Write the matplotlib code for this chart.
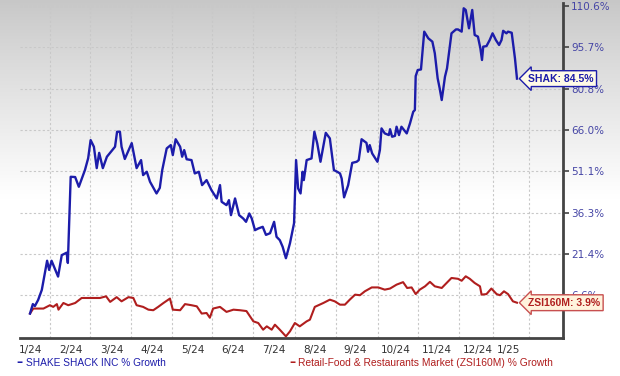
import matplotlib
matplotlib.use('Agg')
import matplotlib.pyplot as plt
import numpy as np

# x = months since the first day on the chart (1/24), y = % growth
shak_month = [0.00, 0.07, 0.12, 0.20, 0.29, 0.42, 0.47, 0.53, 0.69, 0.78, 0.90, 0.93,
              1.00, 1.11, 1.20, 1.35, 1.43, 1.49, 1.57, 1.64, 1.70, 1.79, 1.89, 2.09,
              2.14, 2.21, 2.25, 2.33, 2.50, 2.62, 2.73, 2.78, 2.87, 2.95, 3.11, 3.19,
              3.25, 3.36, 3.46, 3.51, 3.58, 3.69, 3.74, 3.79, 3.85, 3.97, 4.05, 4.15,
              4.23, 4.34, 4.46, 4.59, 4.67, 4.71, 4.83, 4.89, 4.94, 5.04, 5.14, 5.24,
              5.31, 5.39, 5.45, 5.53, 5.61, 5.72, 5.80, 5.90, 6.00, 6.06, 6.14, 6.21,
              6.29, 6.39, 6.49, 6.54, 6.59, 6.65, 6.70, 6.73, 6.80, 6.92, 6.99, 7.06,
              7.14, 7.27, 7.37, 7.47, 7.55, 7.62, 7.66, 7.72, 7.82, 7.92, 8.03, 8.08,
              8.15, 8.27, 8.31, 8.35, 8.41, 8.54, 8.60, 8.64, 8.72, 8.82, 8.85, 8.90,
              8.97, 9.01, 9.07, 9.13, 9.26, 9.34, 9.42, 9.46, 9.48, 9.53, 9.61, 9.69,
              9.79, 9.89, 9.95, 10.02, 10.07, 10.12, 10.20, 10.25, 10.36, 10.47, 10.52,
              10.61, 10.66, 10.71, 10.79, 10.87, 10.93, 11.01, 11.07, 11.11, 11.14,
              11.22, 11.30, 11.37, 11.45, 11.53, 11.59, 11.63, 11.71, 11.75, 11.84,
              11.92, 11.97]
shak_growth = [0.0, 3.4, 2.7, 4.9, 8.5, 19.0, 15.7, 19.0, 13.3, 21.0, 21.9, 18.2,
               49.2, 49.1, 45.6, 51.6, 55.9, 62.4, 60.0, 52.3, 57.8, 52.3, 56.4, 60.0,
               65.4, 65.4, 60.0, 55.6, 61.3, 52.3, 55.2, 49.8, 51.0, 47.4, 43.2, 45.2,
               51.6, 59.4, 60.6, 57.0, 62.7, 60.0, 56.4, 58.8, 55.5, 55.2, 50.4, 51.0,
               46.2, 48.0, 44.4, 41.4, 46.2, 40.2, 39.0, 40.8, 35.4, 41.4, 35.4, 34.2,
               33.0, 36.0, 34.2, 30.0, 30.6, 31.2, 28.3, 28.9, 33.0, 27.6, 26.4, 24.0,
               19.9, 25.3, 32.5, 55.2, 45.0, 43.2, 51.0, 48.0, 55.2, 55.8, 65.4, 61.2,
               54.6, 65.0, 63.0, 51.6, 51.0, 50.4, 48.6, 41.8, 46.2, 54.2, 54.6, 55.2,
               62.7, 61.4, 58.2, 60.6, 57.6, 54.6, 58.8, 66.6, 64.8, 64.2, 66.3, 63.6,
               63.9, 67.2, 64.2, 67.2, 64.8, 68.4, 72.6, 73.2, 85.4, 87.6, 87.8, 101.4,
               99.0, 97.8, 93.6, 84.6, 81.0, 76.8, 85.2, 88.2, 100.8, 102.2, 102.2,
               101.4, 109.8, 109.2, 102.6, 109.2, 100.2, 99.6, 95.4, 91.2, 96.0,
               96.2, 98.4, 100.8, 98.4, 96.6, 98.4, 101.7, 100.8, 101.4, 101.0,
               91.8, 84.5]

zsi_month = [0.00, 0.08, 0.33, 0.49, 0.57, 0.66, 0.70, 0.82, 0.94, 1.11, 1.27, 1.47,
             1.72, 1.87, 1.97, 2.13, 2.25, 2.42, 2.54, 2.62, 2.78, 2.91, 3.03, 3.15,
             3.28, 3.44, 3.51, 3.69, 3.81, 3.97, 4.10, 4.22, 4.34, 4.42, 4.50, 4.67,
             4.83, 5.00, 5.16, 5.32, 5.49, 5.61, 5.73, 5.82, 5.94, 6.02, 6.14, 6.29,
             6.39, 6.51, 6.63, 6.80, 6.88, 7.00, 7.21, 7.37, 7.49, 7.62, 7.74, 7.86,
             7.99, 8.11, 8.23, 8.40, 8.56, 8.72, 8.85, 9.01, 9.17, 9.27, 9.38, 9.48,
             9.58, 9.71, 9.83, 9.95, 10.12, 10.24, 10.36, 10.52, 10.61, 10.71, 10.81,
             10.93, 11.06, 11.10, 11.22, 11.34, 11.47, 11.55, 11.65, 11.75, 11.87, 11.97]
zsi_growth = [0.0, 1.8, 1.8, 3.0, 2.4, 3.4, 1.4, 3.8, 3.0, 3.8, 5.6, 5.6,
              5.6, 6.2, 4.2, 5.9, 4.4, 5.9, 5.6, 3.0, 2.4, 1.4, 1.2, 2.4,
              3.8, 5.4, 1.4, 1.2, 3.4, 3.0, 2.6, 0.0, 0.2, -1.5, 1.8, 2.4,
              0.6, 1.4, 1.2, 0.9, -2.8, -3.4, -5.8, -4.6, -5.8, -4.0, -5.8, -8.2,
              -6.4, -3.4, -4.6, -2.8, -2.2, 2.4, 3.8, 5.0, 4.4, 3.2, 3.2, 5.0,
              6.8, 6.6, 8.0, 9.4, 9.4, 8.6, 9.0, 10.4, 11.3, 9.2, 9.4, 7.0,
              8.6, 9.8, 11.4, 9.8, 9.2, 11.0, 12.8, 12.5, 11.8, 13.4, 12.5,
              11.0, 9.8, 6.8, 7.0, 9.0, 7.0, 6.6, 8.0, 7.0, 4.4, 3.9]

month_ticks = [0, 1, 2, 3, 4, 5, 6, 7, 8, 9, 10, 11, 11.76]
month_labels = ['1/24', '2/24', '3/24', '4/24', '5/24', '6/24', '7/24', '8/24',
                '9/24', '10/24', '11/24', '12/24', '1/25']
grid_months = [0.49, 1.47, 2.48, 3.49, 4.47, 5.48, 6.51, 7.52, 8.55, 9.53,
               10.54, 11.38, 12.27]
y_ticks = [6.6, 21.4, 36.3, 51.1, 66.0, 80.8, 95.7, 110.6]

blue = '#1c1caa'
red = '#b01e1e'

fig = plt.figure(figsize=(6.2, 3.76), dpi=100)

# grey to white background fade
bg = fig.add_axes([0, 0, 1, 1], zorder=-1)
fade = np.clip(np.linspace(0, 1.9, 800), 0, 1) ** 0.9
shade = 0.78 + 0.22 * fade
img = np.repeat(shade[:, None], 2, axis=1)
bg.imshow(np.dstack([img, img, img]), aspect='auto', extent=[0, 1, 0, 1],
          origin='upper', interpolation='bilinear')
bg.axis('off')

ax = fig.add_axes([0.032, 0.101, 0.876, 0.891])
ax.patch.set_alpha(0)

ax.plot(zsi_month, zsi_growth, color=red, lw=1.5, zorder=3)
ax.plot(shak_month, shak_growth, color=blue, lw=1.7, zorder=4)

ax.set_xlim(-0.25, 13.1)
ax.set_ylim(-8.8, 111.7)

ax.set_xticks(month_ticks)
ax.set_xticklabels(month_labels)
ax.set_xticks(grid_months, minor=True)
ax.tick_params(axis='x', which='both', length=0, labelsize=7.5, colors='#333333', pad=5)
ax.grid(which='minor', axis='x', color='#c8c8c8', ls=(0, (2, 2)), lw=0.8)

ax.yaxis.tick_right()
ax.set_yticks(y_ticks)
ax.set_yticklabels([f'{v:.1f}%' for v in y_ticks])
ax.tick_params(axis='y', direction='out', length=4, width=1.2, color='#444444',
               labelsize=7.5, labelcolor='#4545a5', pad=2)
ax.grid(axis='y', color='#c8c8c8', ls=(0, (2, 2)), lw=0.8)

for side in ['top', 'left']:
    ax.spines[side].set_visible(False)
for side in ['right', 'bottom']:
    ax.spines[side].set_color('#444444')
    ax.spines[side].set_linewidth(2)

ax.annotate(f'SHAK: {shak_growth[-1]:.1f}%', xy=(shak_month[-1], shak_growth[-1]),
            xytext=(8, 0), textcoords='offset points', va='center', ha='left',
            fontsize=7.5, fontweight='bold', color=blue, family='Liberation Sans',
            annotation_clip=False, zorder=10,
            bbox=dict(boxstyle='larrow,pad=0.28', fc='#fffbe6', ec=blue, lw=1))
ax.annotate(f'ZSI160M: {zsi_growth[-1]:.1f}%', xy=(zsi_month[-1], zsi_growth[-1]),
            xytext=(8, 0), textcoords='offset points', va='center', ha='left',
            fontsize=7.5, fontweight='bold', color=red, family='Liberation Sans',
            annotation_clip=False, zorder=10,
            bbox=dict(boxstyle='larrow,pad=0.28', fc='#fff3dc', ec='#c85050', lw=1))

fig.text(0.026, 0.035, '\u2013', color=blue, fontsize=9, fontweight='bold', va='center')
fig.text(0.042, 0.035, 'SHAKE SHACK INC % Growth', color=blue, fontsize=7.3,
         family='Liberation Sans', va='center')
fig.text(0.466, 0.035, '\u2013', color=red, fontsize=9, fontweight='bold', va='center')
fig.text(0.481, 0.035, 'Retail-Food & Restaurants Market (ZSI160M) % Growth', color=red,
         fontsize=7.4, family='Liberation Sans', va='center')

fig.savefig('out.png', dpi=100)
